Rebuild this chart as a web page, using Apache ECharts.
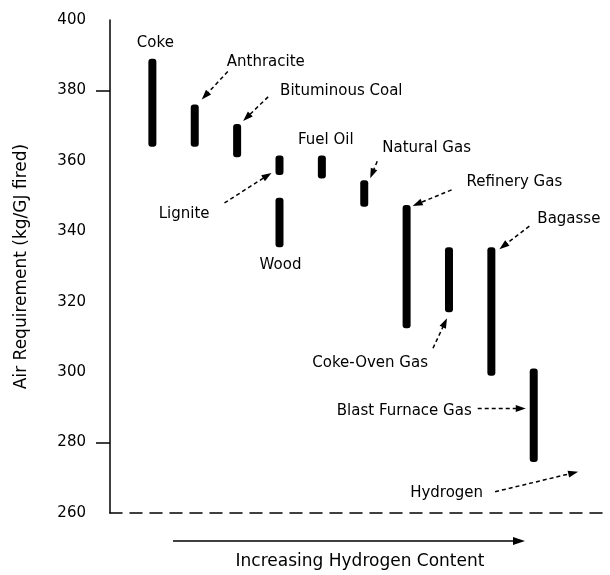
<!DOCTYPE html>
<html>
<head>
<meta charset="utf-8">
<script src="https://cdn.jsdelivr.net/npm/echarts@6.0.0/dist/echarts.min.js"></script>
<style>
    html, body { margin: 0; padding: 0; background: #fff; }
    #chart { width: 610px; height: 575px; }
</style>
</head>
<body>
<div id="chart"></div>
<script>
// data
var fuels = ['Coke', 'Anthracite', 'Bituminous Coal', 'Lignite', 'Wood', 'Fuel Oil', 'Natural Gas',
    'Refinery Gas', 'Coke-Oven Gas', 'Bagasse', 'Blast Furnace Gas', 'Hydrogen'];
var hydrogenRank = [0, 1, 2, 3, 3, 4, 5, 6, 7, 8, 9, 10];
var airLow = [364, 364, 361, 356, 335.5, 355, 347, 312.5, 317, 299, 274.5, 272];
var airHigh = [389, 376, 370.5, 361.5, 349.5, 361.5, 354.5, 347.5, 335.5, 335.5, 301, 272];
var yMin = 260, yMax = 400, yStep = 20;
var yMarks = [280, 380];

// label layout: offsets in px from the bar end (at), leader from/to
var notes = [
    { at: 'top', align: 'center', dx: 3, dy: -16 },
    { at: 'top', align: 'left', dx: 32, dy: -42, from: [33, -33], to: [7, -5] },
    { at: 'top', align: 'left', dx: 43, dy: -33, from: [31, -27], to: [6, -3] },
    { at: 'bottom', align: 'right', dx: -70, dy: 39, from: [-55, 28], to: [-8, -2] },
    { at: 'bottom', align: 'center', dx: 1, dy: 18 },
    { at: 'top', align: 'center', dx: 4, dy: -15 },
    { at: 'top', align: 'left', dx: 18, dy: -32, from: [13, -19], to: [6, -2] },
    { at: 'top', align: 'left', dx: 60, dy: -23, from: [45, -15], to: [6, 1] },
    { at: 'bottom', align: 'right', dx: -21, dy: 51, from: [-16, 36], to: [-2, 6] },
    { at: 'top', align: 'left', dx: 46, dy: -28, from: [38, -21], to: [8, 2] },
    { at: 'top', align: 'right', dx: -62, dy: 42, from: [-56, 40], to: [-8, 40] },
    { at: 'top', align: 'right', dx: -93, dy: 22, from: [-81, 21], to: [2, 1] }
];

var fontName = '"DejaVu Sans", sans-serif';

var barData = [];
for (var i = 0; i < fuels.length; i++) {
    barData.push([hydrogenRank[i], airLow[i], airHigh[i]]);
}

function renderBar(params, api) {
    var lo = api.coord([api.value(0), api.value(1)]);
    var hi = api.coord([api.value(0), api.value(2)]);
    if (lo[1] - hi[1] < 1) {
        return;
    }
    return {
        type: 'rect',
        shape: { x: lo[0] - 4, y: hi[1], width: 8, height: lo[1] - hi[1], r: 3 },
        style: { fill: '#000' }
    };
}

function arrowHead(x1, y1, x2, y2, len, half) {
    var ang = Math.atan2(y2 - y1, x2 - x1);
    var c = Math.cos(ang), s = Math.sin(ang);
    var bx = x2 - len * c, by = y2 - len * s;
    return [[x2, y2], [bx - half * s, by + half * c], [bx + half * s, by - half * c]];
}

function renderNote(params, api) {
    var i = params.dataIndex;
    var n = notes[i];
    var v = n.at == 'top' ? airHigh[i] : airLow[i];
    var p = api.coord([hydrogenRank[i], v]);
    var kids = [{
        type: 'text',
        x: p[0] + n.dx,
        y: p[1] + n.dy,
        style: { text: fuels[i], fill: '#000', font: '15px ' + fontName, align: n.align, verticalAlign: 'middle' }
    }];
    if (n.from) {
        var x1 = p[0] + n.from[0], y1 = p[1] + n.from[1];
        var x2 = p[0] + n.to[0], y2 = p[1] + n.to[1];
        var head = arrowHead(x1, y1, x2, y2, 10, 3.5);
        var ang = Math.atan2(y2 - y1, x2 - x1);
        kids.push({
            type: 'line',
            shape: { x1: x1, y1: y1, x2: x2 - 8 * Math.cos(ang), y2: y2 - 8 * Math.sin(ang) },
            style: { stroke: '#000', lineWidth: 1.5, lineDash: [4, 3] }
        });
        kids.push({ type: 'polygon', shape: { points: head }, style: { fill: '#000' } });
    }
    return { type: 'group', children: kids };
}

var myChart = echarts.init(document.getElementById('chart'));

var option = {
    backgroundColor: '#fff',
    animation: false,
    grid: { left: 110, right: 0, top: 20, bottom: 56 },
    xAxis: {
        type: 'value',
        min: -1,
        max: 10.8,
        name: 'Increasing Hydrogen Content',
        nameLocation: 'middle',
        nameGap: 40,
        nameTextStyle: { color: '#000', fontSize: 17, fontFamily: fontName },
        axisLine: { show: true, onZero: false, lineStyle: { color: '#000', width: 1.5, type: [12, 8] } },
        axisTick: { show: false },
        axisLabel: { show: false },
        splitLine: { show: false }
    },
    yAxis: {
        type: 'value',
        min: yMin,
        max: yMax,
        interval: yStep,
        name: 'Air Requirement (kg/GJ fired)',
        nameLocation: 'middle',
        nameGap: 80,
        nameTextStyle: { color: '#000', fontSize: 17, fontFamily: fontName },
        axisLine: { show: true, onZero: false, lineStyle: { color: '#000', width: 1.5 } },
        axisTick: { show: true, length: 14, customValues: yMarks, lineStyle: { color: '#000', width: 1.5 } },
        axisLabel: { color: '#000', fontSize: 15, fontFamily: fontName, margin: 24 },
        splitLine: { show: false }
    },
    graphic: [{
        type: 'group',
        children: [
            { type: 'line', shape: { x1: 173, y1: 541, x2: 515, y2: 541 }, style: { stroke: '#000', lineWidth: 1.5 } },
            { type: 'polygon', shape: { points: [[525, 541], [513, 537], [513, 545]] }, style: { fill: '#000' } }
        ]
    }],
    series: [
        {
            name: 'range',
            type: 'custom',
            renderItem: renderBar,
            data: barData
        },
        {
            name: 'labels',
            type: 'custom',
            renderItem: renderNote,
            data: barData,
            clip: false
        }
    ]
};

myChart.setOption(option);
</script>
</body>
</html>
